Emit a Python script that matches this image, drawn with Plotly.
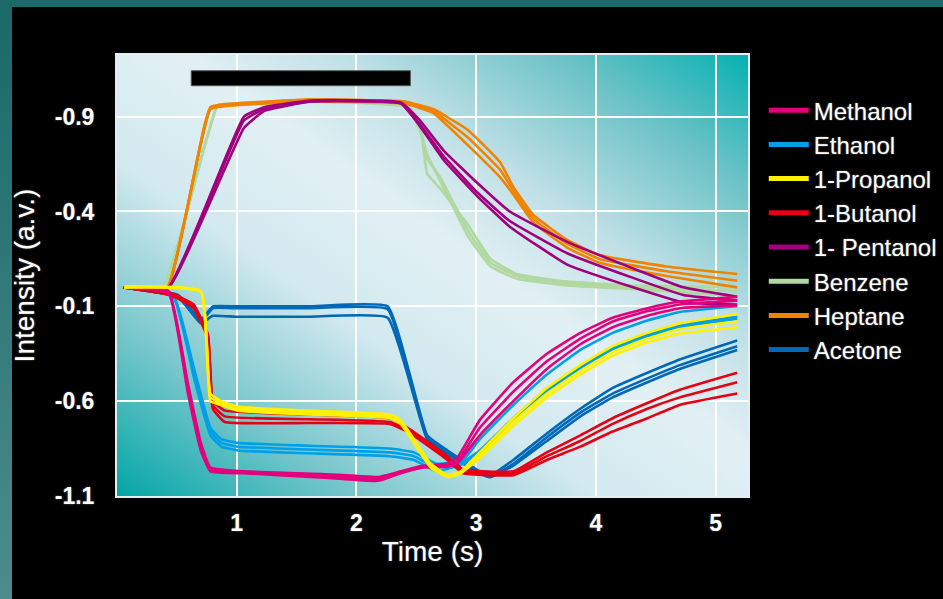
import base64
import plotly.graph_objects as go

# ---------------- data ----------------
time_ticks = [1, 2, 3, 4, 5]
y_tickvals = [0.9, 0.4, -0.1, -0.6, -1.1]
y_ticktext = ["-0.9", "-0.4", "-0.1", "-0.6", "-1.1"]

stimulus_on = 0.62
stimulus_off = 2.45
stimulus_bar_low = 1.063
stimulus_bar_high = 1.142

heptane_t = [0.05, 0.42, 0.78, 1.0, 1.6, 2.4, 2.64, 2.93, 3.2, 3.31, 3.48, 3.76, 4.03, 4.59, 5.18]
heptane_1 = [0.0, 0.0, 0.95, 0.97, 0.99, 0.98, 0.94, 0.83, 0.66, 0.53, 0.38, 0.25, 0.17, 0.11, 0.07]
heptane_2 = [0.0, 0.0, 0.94, 0.965, 0.99, 0.98, 0.93, 0.79, 0.62, 0.51, 0.36, 0.23, 0.15, 0.085, 0.035]
heptane_3 = [0.0, 0.0, 0.94, 0.96, 0.98, 0.97, 0.92, 0.75, 0.58, 0.49, 0.34, 0.21, 0.13, 0.06, 0.0]

benzene_t = [0.05, 0.39, 0.84, 1.0, 1.6, 2.43, 2.53, 2.59, 2.7, 2.93, 3.12, 3.34, 3.76, 4.31, 5.18]
benzene_1 = [0.0, 0.01, 0.96, 0.97, 0.985, 0.96, 0.86, 0.60, 0.52, 0.33, 0.15, 0.07, 0.03, 0.01, 0.0]
benzene_2 = [0.0, 0.01, 0.96, 0.97, 0.98, 0.955, 0.85, 0.68, 0.58, 0.30, 0.13, 0.06, 0.02, 0.0, -0.02]
benzene_3 = [0.0, 0.01, 0.955, 0.965, 0.98, 0.95, 0.83, 0.70, 0.56, 0.27, 0.11, 0.045, 0.01, -0.01, -0.045]

pentanol_t = [0.05, 0.43, 1.06, 1.23, 1.62, 2.37, 2.53, 2.73, 3.01, 3.28, 3.76, 4.31, 4.73, 5.18]
pentanol_1 = [0.0, 0.0, 0.90, 0.95, 0.985, 0.975, 0.88, 0.72, 0.55, 0.40, 0.24, 0.10, 0.0, -0.05]
pentanol_2 = [0.0, 0.0, 0.88, 0.94, 0.98, 0.97, 0.86, 0.69, 0.50, 0.35, 0.18, 0.05, -0.04, -0.07]
pentanol_3 = [0.0, 0.0, 0.84, 0.93, 0.98, 0.97, 0.85, 0.67, 0.48, 0.32, 0.12, 0.0, -0.08, -0.09]

methanol_t = [0.05, 0.43, 0.59, 0.70, 0.78, 1.06, 1.5, 1.89, 2.18, 2.37, 2.56, 2.76, 2.84, 3.03, 3.31, 3.59, 3.87, 4.14, 4.43, 4.7, 5.18]
methanol_1 = [0.0, -0.02, -0.50, -0.82, -0.95, -0.97, -0.98, -0.99, -1.0, -0.97, -0.94, -0.93, -0.90, -0.70, -0.50, -0.35, -0.24, -0.16, -0.11, -0.075, -0.05]
methanol_2 = [0.0, -0.02, -0.52, -0.84, -0.96, -0.975, -0.985, -1.0, -1.01, -0.975, -0.945, -0.94, -0.92, -0.74, -0.55, -0.39, -0.27, -0.18, -0.125, -0.09, -0.07]
methanol_3 = [0.0, -0.03, -0.55, -0.86, -0.97, -0.98, -0.995, -1.01, -1.02, -0.98, -0.95, -0.945, -0.93, -0.78, -0.60, -0.43, -0.30, -0.21, -0.15, -0.11, -0.095]

ethanol_t = [0.05, 0.47, 0.64, 0.78, 0.87, 1.01, 1.6, 2.28, 2.48, 2.67, 2.89, 3.03, 3.31, 3.59, 3.87, 4.14, 4.43, 4.7, 5.18]
ethanol_1 = [0.0, -0.04, -0.42, -0.74, -0.80, -0.82, -0.835, -0.85, -0.87, -0.93, -0.91, -0.80, -0.62, -0.46, -0.33, -0.24, -0.175, -0.13, -0.10]
ethanol_2 = [0.0, -0.05, -0.45, -0.76, -0.82, -0.84, -0.855, -0.87, -0.89, -0.95, -0.92, -0.86, -0.69, -0.54, -0.42, -0.32, -0.25, -0.20, -0.155]
ethanol_3 = [0.0, -0.05, -0.47, -0.78, -0.84, -0.86, -0.875, -0.89, -0.91, -0.97, -0.93, -0.87, -0.70, -0.55, -0.43, -0.33, -0.26, -0.21, -0.165]

propanol_t = [0.06, 0.70, 0.78, 0.87, 1.01, 1.6, 2.28, 2.37, 2.62, 2.76, 2.87, 3.03, 3.31, 3.59, 3.87, 4.14, 4.43, 4.7, 5.18]
propanol_1 = [0.0, -0.02, -0.56, -0.60, -0.63, -0.65, -0.67, -0.70, -0.93, -0.99, -0.97, -0.87, -0.69, -0.53, -0.41, -0.31, -0.24, -0.19, -0.14]
propanol_2 = [0.005, -0.02, -0.58, -0.61, -0.64, -0.66, -0.68, -0.71, -0.94, -1.0, -0.98, -0.89, -0.71, -0.56, -0.44, -0.34, -0.27, -0.22, -0.18]
propanol_3 = [0.0, -0.025, -0.60, -0.62, -0.65, -0.67, -0.69, -0.72, -0.95, -1.0, -0.98, -0.90, -0.73, -0.58, -0.46, -0.36, -0.29, -0.245, -0.21]

butanol_t = [0.06, 0.45, 0.64, 0.76, 0.80, 0.90, 1.6, 2.28, 2.45, 2.76, 2.89, 3.31, 3.59, 3.87, 4.14, 4.43, 4.7, 5.18]
butanol_1 = [0.0, -0.03, -0.09, -0.25, -0.60, -0.65, -0.67, -0.69, -0.75, -0.89, -0.96, -0.97, -0.87, -0.78, -0.69, -0.61, -0.54, -0.45]
butanol_2 = [0.0, -0.04, -0.10, -0.26, -0.62, -0.68, -0.695, -0.71, -0.76, -0.90, -0.97, -0.98, -0.89, -0.81, -0.72, -0.64, -0.58, -0.50]
butanol_3 = [0.0, -0.04, -0.11, -0.27, -0.64, -0.71, -0.715, -0.72, -0.77, -0.91, -0.98, -0.99, -0.91, -0.84, -0.76, -0.69, -0.62, -0.56]

acetone_t = [0.06, 0.51, 0.70, 0.80, 1.0, 1.6, 2.26, 2.59, 2.76, 3.03, 3.12, 3.31, 3.59, 3.87, 4.14, 4.43, 4.7, 5.18]
acetone_1 = [0.0, -0.04, -0.17, -0.10, -0.10, -0.10, -0.10, -0.78, -0.86, -0.97, -0.99, -0.91, -0.77, -0.64, -0.53, -0.45, -0.38, -0.28]
acetone_2 = [0.0, -0.05, -0.18, -0.11, -0.11, -0.11, -0.115, -0.79, -0.87, -0.98, -1.0, -0.93, -0.79, -0.66, -0.56, -0.48, -0.41, -0.31]
acetone_3 = [0.0, -0.05, -0.19, -0.15, -0.155, -0.155, -0.16, -0.80, -0.88, -0.98, -1.0, -0.94, -0.81, -0.68, -0.58, -0.50, -0.43, -0.33]

legend_names = ["Methanol", "Ethanol", "1-Propanol", "1-Butanol", "1- Pentanol",
                "Benzene", "Heptane", "Acetone"]

# ---------------- styling ----------------
colors = {
    "Methanol": "#e4007c",
    "Ethanol": "#00a0e9",
    "1-Propanol": "#fff100",
    "1-Butanol": "#e60012",
    "1- Pentanol": "#a0007d",
    "Benzene": "#b0d8a0",
    "Heptane": "#f08300",
    "Acetone": "#0068b7",
}

series = {
    "Acetone": (acetone_t, [acetone_1, acetone_2, acetone_3]),
    "Benzene": (benzene_t, [benzene_1, benzene_2, benzene_3]),
    "Heptane": (heptane_t, [heptane_1, heptane_2, heptane_3]),
    "1- Pentanol": (pentanol_t, [pentanol_1, pentanol_2, pentanol_3]),
    "Ethanol": (ethanol_t, [ethanol_1, ethanol_2, ethanol_3]),
    "1-Butanol": (butanol_t, [butanol_1, butanol_2, butanol_3]),
    "Methanol": (methanol_t, [methanol_1, methanol_2, methanol_3]),
    "1-Propanol": (propanol_t, [propanol_1, propanol_2, propanol_3]),
}

fig = go.Figure()

for name, (t, reps) in series.items():
    for ys in reps:
        fig.add_trace(go.Scatter(
            x=t, y=ys, mode="lines", name=name, legendgroup=name,
            showlegend=False, hoverinfo="skip",
            line=dict(color=colors[name], width=2.6, shape="spline", smoothing=0.35),
        ))

for name in legend_names:
    fig.add_trace(go.Scatter(
        x=[None], y=[None], mode="lines", name=name, legendgroup=name,
        line=dict(color=colors[name], width=5),
    ))

# background artwork (frame and gradient plot area) as SVG images
frame_svg = (
    "<svg xmlns='http://www.w3.org/2000/svg' width='943' height='599' viewBox='0 0 943 599' "
    "preserveAspectRatio='none'><defs><linearGradient id='s' x1='0' y1='0' x2='0' y2='1'>"
    "<stop offset='0' stop-color='#1a6868'/><stop offset='1' stop-color='#4d8c8c'/></linearGradient></defs>"
    "<rect width='943' height='599' fill='#000'/>"
    "<rect x='0' y='0' width='943' height='7' fill='#1b6a6a'/>"
    "<rect x='0' y='0' width='12' height='599' fill='url(#s)'/></svg>"
)
plot_svg = (
    "<svg xmlns='http://www.w3.org/2000/svg' width='631' height='441' viewBox='0 0 631 441' "
    "preserveAspectRatio='none'><defs><linearGradient id='g' x1='0' y1='1' x2='1' y2='0'>"
    "<stop offset='0' stop-color='#03a6a6'/>"
    "<stop offset='0.2' stop-color='#7cc8cd'/>"
    "<stop offset='0.38' stop-color='#d2e9ef'/>"
    "<stop offset='0.55' stop-color='#e2f0f4'/>"
    "<stop offset='0.68' stop-color='#bfe0e6'/>"
    "<stop offset='0.85' stop-color='#6cc2c6'/>"
    "<stop offset='1' stop-color='#05b1b1'/>"
    "</linearGradient></defs><rect width='631' height='441' fill='url(#g)'/></svg>"
)


def svg_uri(s):
    return "data:image/svg+xml;base64," + base64.b64encode(s.encode()).decode()


W, H = 943, 599
ml, mr, mt, mb = 117, 195, 55, 103
pw, ph = W - ml - mr, H - mt - mb

fig.add_layout_image(dict(
    source=svg_uri(frame_svg), xref="paper", yref="paper",
    x=-ml / pw, y=1 + mt / ph, sizex=W / pw, sizey=H / ph,
    xanchor="left", yanchor="top", sizing="stretch", layer="below",
))
fig.add_layout_image(dict(
    source=svg_uri(plot_svg), xref="paper", yref="paper",
    x=0, y=1, sizex=1, sizey=1, xanchor="left", yanchor="top",
    sizing="stretch", layer="below",
))

fig.add_shape(type="rect", xref="x", yref="y",
              x0=stimulus_on, x1=stimulus_off, y0=stimulus_bar_low, y1=stimulus_bar_high,
              fillcolor="black", line=dict(color="#555555", width=1), layer="above")

glow = "0px 0px 2px rgba(255,255,255,0.45)"
tick_font = dict(family="Liberation Sans, Arial, sans-serif", size=23, color="white",
                 weight="bold", shadow=glow)
title_font = dict(family="Liberation Sans, Arial, sans-serif", size=28, color="white", shadow=glow)

fig.update_layout(
    width=W, height=H,
    margin=dict(l=ml, r=mr, t=mt, b=mb, autoexpand=False),
    paper_bgcolor="black", plot_bgcolor="#dceef2",
    showlegend=True,
    legend=dict(
        x=1.025, xanchor="left", y=0.925, yanchor="top",
        bgcolor="rgba(0,0,0,0)", borderwidth=0,
        font=dict(family="Liberation Sans, Arial, sans-serif", size=24, color="white", shadow=glow),
        itemwidth=40, tracegroupgap=0,
    ),
    xaxis=dict(
        range=[0, 5.27], tickvals=time_ticks, showgrid=True, gridcolor="white", gridwidth=2,
        zeroline=False, showline=True, mirror=True, linecolor="#e4eeee", linewidth=2,
        tickfont=tick_font, ticks="", ticklabelstandoff=5,
        title=dict(text="Time (s)", font=title_font, standoff=6),
    ),
    yaxis=dict(
        range=[-1.1, 1.225], tickvals=y_tickvals, ticktext=y_ticktext,
        showgrid=True, gridcolor="white", gridwidth=2,
        zeroline=False, showline=True, mirror=True, linecolor="#e4eeee", linewidth=2,
        tickfont=tick_font, ticks="", ticklabelstandoff=16,
        title=dict(text="Intensity (a.v.)", font=title_font, standoff=12),
    ),
)

fig.write_html("out.html")
